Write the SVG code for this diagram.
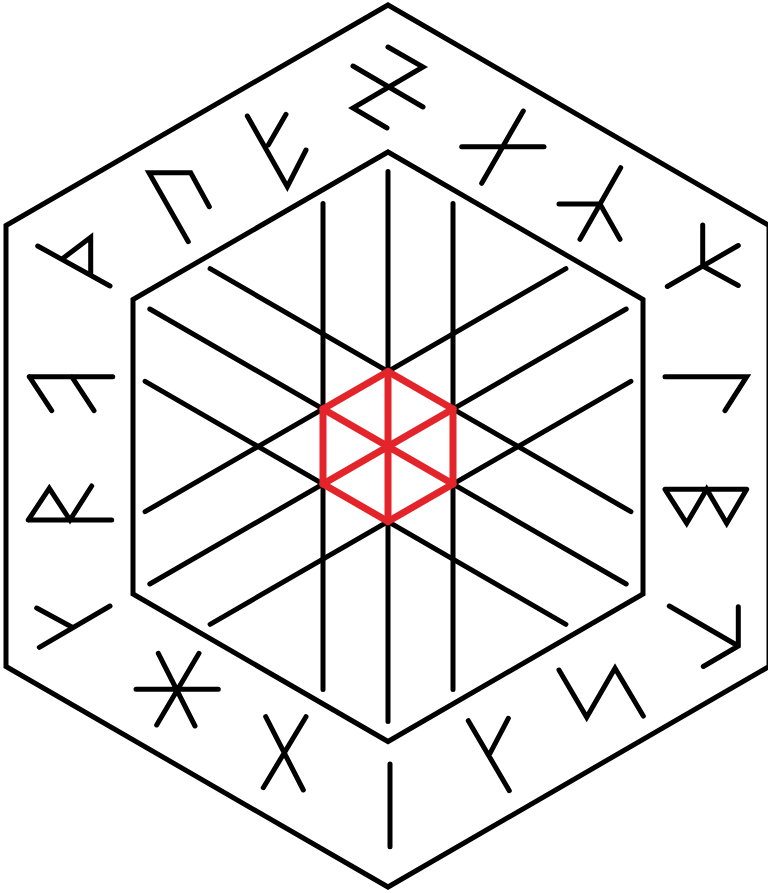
<svg xmlns="http://www.w3.org/2000/svg" width="768" height="893" viewBox="0 0 768 893">
<style>
.frame{fill:none;stroke:#000;stroke-width:5;stroke-linejoin:miter}
.ln{stroke:#000;stroke-width:5;stroke-linecap:round}
.rune{fill:none;stroke:#000;stroke-width:5;stroke-linecap:round;stroke-linejoin:miter}
.red{fill:none;stroke:#e3252b;stroke-width:7;stroke-linejoin:miter;stroke-linecap:round}
</style>
<rect width="768" height="893" fill="#fff"/>
<g id="outer-hexagon">
<polygon class="frame" points="388,5 769,225.5 769,666.5 388,887 6,666.5 6,225.5"/>
</g>
<g id="inner-hexagon">
<polygon class="frame" points="388,152 643,299.5 643,594 388,741.5 133,594 133,299.5"/>
</g>
<g id="grid-lines">
<line class="ln" x1="388" y1="171.5" x2="388" y2="721.5"/>
<line class="ln" x1="323" y1="203.5" x2="323" y2="689.5"/>
<line class="ln" x1="453" y1="203.5" x2="453" y2="689.5"/>
<line class="ln" x1="149.8" y1="309" x2="626.2" y2="584"/>
<line class="ln" x1="210.1" y1="268.7" x2="630.9" y2="511.7"/>
<line class="ln" x1="145.1" y1="381.3" x2="565.9" y2="624.3"/>
<line class="ln" x1="149.8" y1="584" x2="626.2" y2="309"/>
<line class="ln" x1="210.1" y1="624.3" x2="630.9" y2="381.3"/>
<line class="ln" x1="145.1" y1="511.7" x2="565.9" y2="268.7"/>
</g>
<g id="red-hexagon">
<polygon class="red" points="388,371.5 453,409 453,484 388,521.5 323,484 323,409"/>
<path class="red" d="M388,371.5 L388,521.5 M323,409 L453,484 M323,484 L453,409"/>
</g>
<g id="runes">
<path id="rune-1" class="rune" d="M37.7,246 L110,286 M61.7,259.3 L90.7,237.3 L90.7,275.3"/>
<path id="rune-2" class="rune" d="M188.3,241.7 L149,172.7 L190.7,172.7 L209.3,206.7"/>
<path id="rune-3" class="rune" d="M247.3,116 L287.3,186.7 L306,150 M268.3,145 L286,114.3"/>
<path id="rune-4" class="rune" d="M388,47 L423,67 L353,108 L387,128 M353,66 L423,107"/>
<path id="rune-5" class="rune" d="M461.7,146.7 L544,146.7 M523.3,111 L481.7,183.3"/>
<path id="rune-6" class="rune" d="M620.7,167.7 L580,239.3 M559,204 L600,204 L620,239.3"/>
<path id="rune-7" class="rune" d="M702.7,225 L702.7,266 M738.3,245.5 L667.3,286.5 M702.7,266 L738.3,285.5"/>
<path id="rune-8" class="rune" d="M665,376.7 L746.7,376.7 L725,410.7"/>
<path id="rune-9" class="rune" d="M665,489.3 L746.7,489.3 M665,489.3 L686.7,523.3 L706.7,489.3 L726.7,523.3 L746.7,489.3"/>
<path id="rune-10" class="rune" d="M669.3,606 L738.3,646 M738.3,606.7 L738.3,646 L703.3,666.5"/>
<path id="rune-11" class="rune" d="M559,670 L586.7,717.3 L615,668.3 L643.3,716"/>
<path id="rune-12" class="rune" d="M468.3,720.7 L509.3,790.7 M508.3,718.3 L490,753.3"/>
<path id="rune-13" class="rune" d="M390,764 L390,846.7"/>
<path id="rune-14" class="rune" d="M265.7,716.7 L303.3,790 M306,716.7 L263.3,787.7"/>
<path id="rune-15" class="rune" d="M136,689.3 L218.3,689.3 M158.3,653.3 L195,726 M199,653.3 L156.7,725"/>
<path id="rune-16" class="rune" d="M110,606 L39.3,647.3 M36.7,608 L71.7,627"/>
<path id="rune-17" class="rune" d="M28.3,520 L111.7,520 M28.3,520 L49.3,488.3 L70,520 L91.7,486"/>
<path id="rune-18" class="rune" d="M29.3,376.7 L112.7,376.7 M29.3,376.7 L51.7,410.7 M71.7,376.7 L94,410.7"/>
</g>
</svg>
